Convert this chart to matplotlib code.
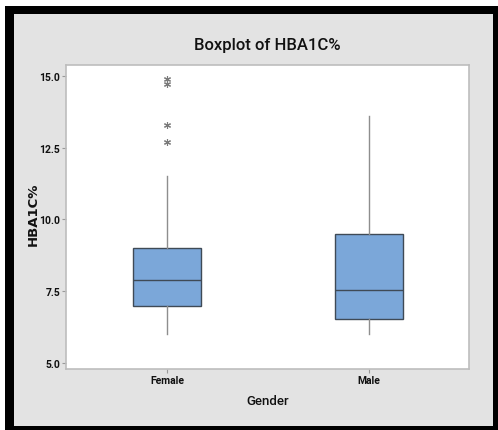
import matplotlib
matplotlib.use("Agg")
import matplotlib.pyplot as plt
from matplotlib.patches import Rectangle

# values
groups = ["Female", "Male"]
q1 = [7.0, 6.55]
med = [7.9, 7.53]
q3 = [9.0, 9.5]
whislo = [6.0, 6.0]
whishi = [11.5, 13.6]
outliers = [[14.9, 14.7, 13.3, 12.7], []]
yticks = [5.0, 7.5, 10.0, 12.5, 15.0]

plt.rcParams['font.family'] = ['Roboto', 'DejaVu Sans']

fig = plt.figure(figsize=(4.98, 4.31), dpi=100)
fig.patch.set_facecolor("white")
W, H = 498, 431
# black frame and grey panel
fig.add_artist(Rectangle((5 / W, 0), 1 - 5 / W, 1 - 7 / H, transform=fig.transFigure,
                         facecolor="black", edgecolor="none", zorder=-2))
fig.add_artist(Rectangle((14 / W, 4 / H), (493 - 14) / W, (427 - 15) / H,
                         transform=fig.transFigure, facecolor="#e3e3e3",
                         edgecolor="none", zorder=-1))

ax = fig.add_axes([66.3 / W, 61 / H, (469.3 - 66.3) / W, (370 - 65.7) / H])
ax.set_facecolor("white")

stats = []
for i, g in enumerate(groups):
    stats.append(dict(label=g, q1=q1[i], med=med[i], q3=q3[i],
                      whislo=whislo[i], whishi=whishi[i], fliers=outliers[i]))

ax.bxp(stats, positions=[1, 2], widths=0.337, patch_artist=True, showcaps=False,
       boxprops=dict(facecolor="#7ba7d9", edgecolor="#3f4a56", linewidth=1.0),
       medianprops=dict(color="#3f4a56", linewidth=1.0),
       whiskerprops=dict(color="#8e8e8e", linewidth=1.0),
       flierprops=dict(marker=(6, 2, 0), markersize=5, markeredgecolor="#7a7a7a",
                       markerfacecolor="none", markeredgewidth=0.8, linestyle="none"))

ax.set_xlim(0.5, 2.5)
ax.set_ylim(4.80, 15.38)
ax.set_yticks(yticks)
ax.set_yticklabels([f"{v:.1f}" for v in yticks])
ax.set_xticks([1, 2])
ax.set_xticklabels(groups)

for s in ax.spines.values():
    s.set_color("#bdbdbd")
    s.set_linewidth(1.2)
ax.tick_params(length=3, width=0.8, color="#9a9a9a", labelsize=7.5, pad=1.5,
               labelcolor="#111111")
for lab in ax.get_xticklabels() + ax.get_yticklabels():
    lab.set_fontweight("bold")

ax.set_title("Boxplot of HBA1C%", fontsize=12, pad=11, color="#111111",
             fontweight="medium")
ax.set_xlabel("Gender", fontsize=9.5, labelpad=6, color="#111111", fontweight="medium")
ax.set_ylabel("HBA1C%", fontsize=9.5, fontweight="bold", family=["DejaVu Sans"],
              color="#111111")
ax.yaxis.set_label_coords(-0.067, 0.51)

fig.savefig("out.png", dpi=100)
